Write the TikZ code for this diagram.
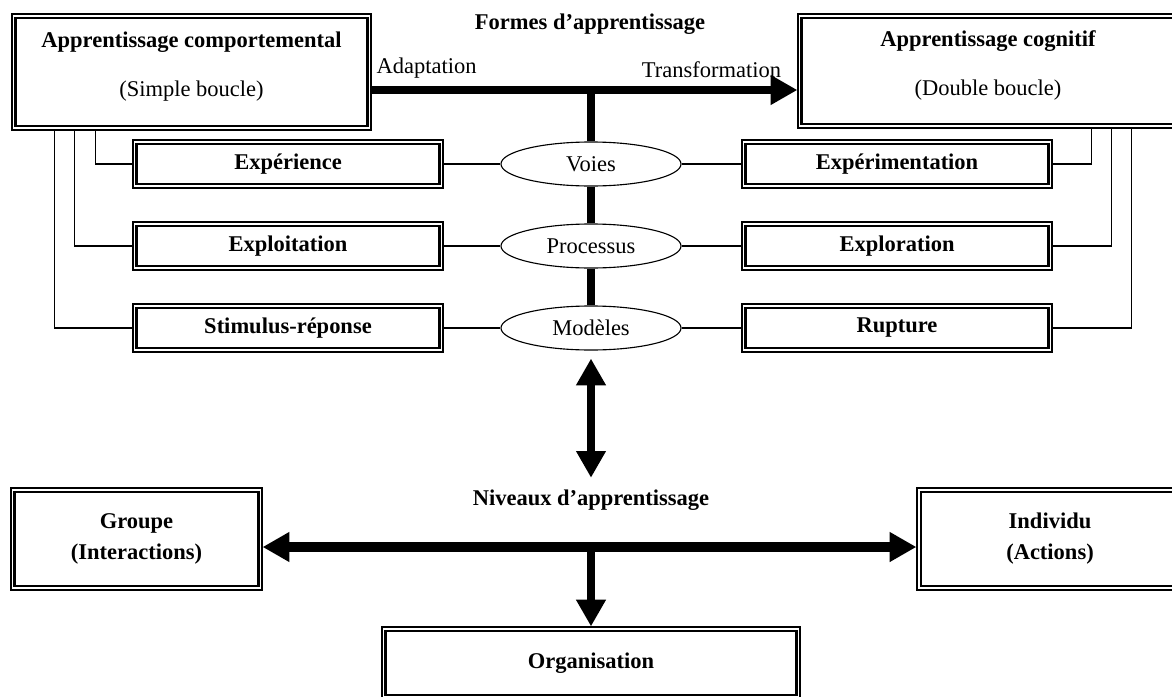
\documentclass[tikz,border=0pt]{standalone}
\usepackage{fontspec}
\setmainfont{Liberation Serif}
\usetikzlibrary{shapes.geometric,arrows.meta}

\begin{document}
\begin{tikzpicture}[x=0.025cm, y=-0.025cm,
  every node/.style={font=\fontsize{16}{19}\selectfont},
  title/.style={font=\fontsize{16}{19}\selectfont\bfseries},
  dbox/.style={draw, line width=0.8pt, align=center, font=\fontsize{16}{19}\selectfont\bfseries,
    path picture={\draw[line width=1.6pt] ([shift={(2.6pt,-2.6pt)}]path picture bounding box.north west)
      rectangle ([shift={(-2.6pt,2.6pt)}]path picture bounding box.south east);}},
  rowbox/.style={dbox, minimum width=7.75cm, minimum height=1.2cm},
  way/.style={draw, ellipse, line width=0.8pt, minimum width=4.5cm, minimum height=1.1cm, inner sep=0pt},
  link/.style={line width=0.8pt},
  trunk/.style={line width=5.5pt},
  bigtip/.tip={Triangle[length=19pt,width=20pt]}]
\useasboundingbox (0,0) rectangle (1172,697);

\node[title] (formes) at (590,24) {Formes d'apprentissage};
\node[dbox, minimum width=8.975cm, minimum height=2.9cm, text depth=11pt] (behav) at (191.5,72)
{Apprentissage comportemental\\[16pt] {\mdseries (Simple boucle)}};
\node[dbox, minimum width=9.5cm, minimum height=2.85cm, text depth=11pt] (cogn) at (988,71)
{Apprentissage cognitif\\[16pt] {\mdseries (Double boucle)}};

\node[rowbox] (exper) at (288,164) {Expérience};
\node[rowbox] (explo) at (288,246) {Exploitation};
\node[rowbox] (stim) at (288,328) {Stimulus-réponse};
\node[rowbox] (experim) at (897,164) {Expérimentation};
\node[rowbox] (explor) at (897,246) {Exploration};
\node[rowbox] (rupt) at (897,328) {Rupture};

\node[way] (voies) at (591,164) {Voies};
\node[way] (proc) at (591,246) {Processus};
\node[way] (mod) at (591,328) {Modèles};

\coordinate (flow) at ([yshift=-0.45cm]behav.east);
\draw[trunk, -bigtip] (flow) -- (flow -| cogn.west);
\node[above right, yshift=5pt] (adapt) at (flow) {Adaptation};
\node[above left, yshift=5pt] (transf) at (786,90) {Transformation};
\draw[trunk] (flow -| voies.north) -- (voies);
\draw[trunk] (voies) -- (proc);
\draw[trunk] (proc) -- (mod);

\draw[link] (exper) -- (voies);
\draw[link] (explo) -- (proc);
\draw[link] (stim) -- (mod);
\draw[link] (voies) -- (experim);
\draw[link] (proc) -- (explor);
\draw[link] (mod) -- (rupt);
\draw[link] ([xshift=2.1cm]behav.south west) |- (exper.west);
\draw[link] ([xshift=1.575cm]behav.south west) |- (explo.west);
\draw[link] ([xshift=1.075cm]behav.south west) |- (stim.west);
\draw[link] ([xshift=7.35cm]cogn.south west) |- (experim.east);
\draw[link] ([xshift=7.85cm]cogn.south west) |- (explor.east);
\draw[link] ([xshift=8.35cm]cogn.south west) |- (rupt.east);

\node[title] (niv) at (591,500) {Niveaux d'apprentissage};
\draw[line width=5pt, bigtip-bigtip, shorten <=0.2cm, shorten >=0.175cm] (mod) -- (niv);

\node[dbox, minimum width=6.275cm, minimum height=2.55cm] (grp) at (136.5,539) {Groupe\\[3pt](Interactions)};
\node[dbox, minimum width=6.65cm, minimum height=2.55cm] (ind) at (1050,539) {Individu\\[3pt](Actions)};
\node[dbox, minimum width=10.45cm, minimum height=1.8cm] (org) at (591,663) {Organisation};

\coordinate (lvl) at ([yshift=-0.2cm]grp.east);
\draw[line width=7pt, bigtip-bigtip] (lvl) -- (lvl -| ind.west);
\draw[line width=5pt, -bigtip] (lvl -| org.north) -- (org.north);
\end{tikzpicture}
\end{document}
